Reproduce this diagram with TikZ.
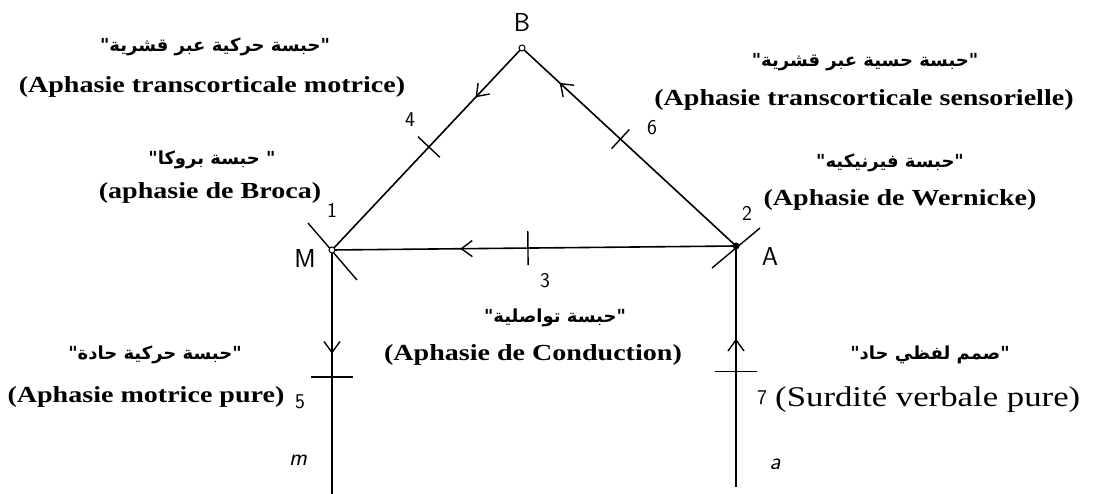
\documentclass[tikz,border=0pt]{standalone}
\usepackage{fontspec}
\setmainfont[FakeStretch=1.22]{Liberation Serif}
\newfontfamily\arabicfont[Script=Arabic]{DejaVu Sans}
\TeXXeTstate=1
\usetikzlibrary{arrows.meta,decorations.markings}
\begin{document}
\begin{tikzpicture}[x=1pt,y=-1pt,
  fr/.style={inner sep=0pt, font=\fontsize{23}{26}\selectfont\bfseries},
  ar/.style={inner sep=0pt, font=\fontsize{18}{22}\selectfont\arabicfont\bfseries},
  hand/.style={inner sep=0pt, font=\fontsize{26}{28}\selectfont\sffamily},
  digit/.style={inner sep=0pt, font=\fontsize{21}{24}\selectfont\sffamily},
  handit/.style={inner sep=0pt, font=\fontsize{24}{26}\selectfont\sffamily\itshape},
  edge/.style={line width=1.6pt},
  tick at/.style 2 args={postaction={decorate, decoration={markings,
      mark=at position #1 with {\draw[line width=1.4pt] (0pt,-#2)--(0pt,#2);}}}},
  mid arrow/.style={postaction={decorate, decoration={markings,
      mark=at position #1 with {\draw[line width=1.4pt, line join=miter] (-11pt,-8pt) -- (0pt,0pt) -- (-11pt,8pt);}}}}
]
\useasboundingbox (0,0) rectangle (1102,494);
% vertices
\coordinate (B) at (522,48);
\coordinate (M) at (332,250);
\coordinate (A) at (736,246);
\coordinate (mb) at (332,494);
\coordinate (ab) at (736,487);
\coordinate (m1) at (308,223);
\coordinate (m2) at (357,280);
\coordinate (a1) at (712,268);
\coordinate (a2) at (760,228);
% edges
\draw[edge, mid arrow=0.24, tick at={0.49}{15pt}] (B) -- (M);
\draw[edge, mid arrow=0.82, tick at={0.54}{13pt}] (A) -- (B);
\draw[edge, mid arrow=0.68, tick at={0.515}{17pt}] (A) -- (M);
\draw[edge, mid arrow=0.42, tick at={0.52}{21pt}] (M) -- (mb);
\draw[edge, mid arrow=0.61, tick at={0.48}{21pt}] (ab) -- (A);
\draw[line width=1.4pt] (m1) -- (m2);
\draw[line width=1.4pt] (a1) -- (a2);
\draw[line width=1pt, fill=white] (B) circle (3pt);
\draw[line width=1pt, fill=white] (M) circle (3pt);
\fill (A) circle (3.5pt);
% handwritten labels
\node[hand] (lB) at (522,22) {B};
\node[hand] (lM) at (305,258) {M};
\node[hand] (lA) at (770,256) {A};
\node[digit] (l1) at (332,210) {1};
\node[digit] (l2) at (747,213) {2};
\node[digit] (l3) at (545,281) {3};
\node[digit] (l4) at (410,120) {4};
\node[digit] (l6) at (652,128) {6};
\node[digit] (l5) at (300,402) {5};
\node[digit] (l7) at (762,398) {7};
\node[handit] (lm) at (298,460) {m};
\node[handit] (la) at (775,464) {a};
% texts
\node[ar] (t1a) at (215,47) {\beginR"حبسة حركية عبر قشرية"\endR};
\node[fr] (t1f) at (212,87) {(Aphasie transcorticale motrice)};
\node[ar] (t2a) at (865,62) {\beginR"حبسة حسية عبر قشرية"\endR};
\node[fr] (t2f) at (864,100) {(Aphasie transcorticale sensorielle)};
\node[ar] (t3a) at (212,160) {\beginR" حبسة بروكا"\endR};
\node[fr] (t3f) at (210,193) {(aphasie de Broca)};
\node[ar] (t4a) at (890,163) {\beginR"حبسة فيرنيكيه"\endR};
\node[fr] (t4f) at (900,200) {(Aphasie de Wernicke)};
\node[ar] (t5a) at (555,318) {\beginR"حبسة تواصلية"\endR};
\node[fr] (t5f) at (533,355) {(Aphasie de Conduction)};
\node[ar] (t6a) at (155,355) {\beginR"حبسة حركية حادة"\endR};
\node[fr] (t6f) at (146,397) {(Aphasie motrice pure)};
\node[ar] (t7a) at (930,355) {\beginR"صمم لفظي حاد"\endR};
\node[inner sep=0pt, anchor=west, font=\fontsize{28.5}{31}\selectfont] (t7f) at (775,400) {(Surdité verbale pure)};
\end{tikzpicture}
\end{document}
